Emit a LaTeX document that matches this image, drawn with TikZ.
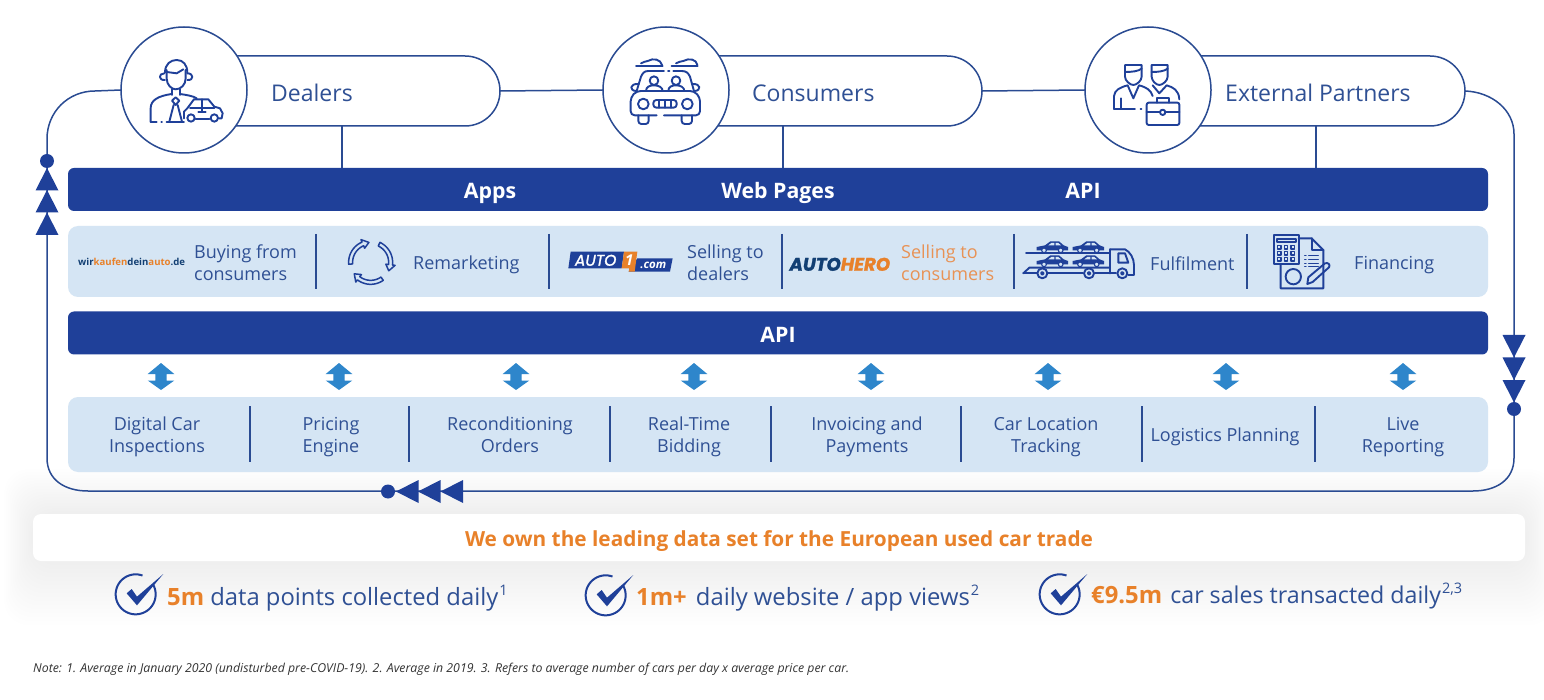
\documentclass[tikz,border=0pt]{standalone}
\usepackage{fontspec}
\setmainfont{Open Sans}
\newfontfamily\logofont[FakeBold=1.6]{Poppins}
\definecolor{navy}{HTML}{2A4B92}
\definecolor{bar}{HTML}{1F4099}
\definecolor{band}{HTML}{D5E5F4}
\definecolor{arrowblue}{HTML}{2E86CB}
\definecolor{orangeA}{HTML}{E8812A}
\definecolor{orangeB}{HTML}{E89255}
\definecolor{txt}{HTML}{2F5094}
\definecolor{heronavy}{HTML}{123F73}
\tikzset{
  conn/.style={draw=navy,line width=1.5pt},
  icon/.style={draw=bar,line width=1.9pt,line join=round,line cap=round},
  pill/.style={draw=navy,line width=1.5pt,fill=white,rounded corners=35pt,minimum height=70pt,inner sep=0pt,outer sep=0pt},
  ring/.style={circle,draw=navy,line width=1.5pt,fill=white,minimum size=126pt,inner sep=0pt,outer sep=0pt},
  darkbar/.style={fill=bar,rounded corners=6pt,minimum width=1420pt,minimum height=43pt,inner sep=0pt,outer sep=0pt},
  lightband/.style={fill=band,rounded corners=10pt,minimum width=1420pt,inner sep=0pt,outer sep=0pt},
  pilltext/.style={text=txt,anchor=west,inner sep=0pt,font=\fontsize{23}{28}\selectfont},
  bartext/.style={text=white,inner sep=0pt,anchor=base,font=\fontsize{21.3}{24}\bfseries\selectfont},
  bandtext/.style={text=txt,inner sep=0pt,align=center,font=\fontsize{18}{22}\selectfont},
  bandleft/.style={bandtext,anchor=west,align=left},
  stat/.style={text=txt,anchor=base west,inner sep=0pt,font=\fontsize{23.8}{28}\selectfont},
  dotmark/.style={circle,fill=bar,minimum size=14pt,inner sep=0pt,outer sep=0pt},
  divline/.style={draw=navy,line width=1.5pt},
}
\newcommand{\triup}[2]{\fill[bar] (#1,#2) -- ++(11.5,22.5) -- ++(-23,0) -- cycle;}
\newcommand{\tridown}[2]{\fill[bar] (#1,#2) -- ++(11.5,-22.5) -- ++(-23,0) -- cycle;}
\newcommand{\trileft}[2]{\fill[bar] (#1,#2) -- ++(22.5,11.5) -- ++(0,-23) -- cycle;}
\newcommand{\supnum}[1]{\raisebox{9.5pt}{\fontsize{14.5}{15}\selectfont\hspace{1pt}#1}}
\newcommand{\minicar}[2]{\begin{scope}[shift={(#1,#2)}]
  \fill[bar] (-47,9) -- (-47,-1) -- (-22,-6) -- (-6,-18) -- (20,-18) -- (34,-6) -- (47,-1) -- (47,9) -- cycle;
  \fill[band] (-12,-6) -- (-3,-13) -- (6,-13) -- (6,-6) -- cycle (10,-6) -- (10,-13) -- (18,-13) -- (26,-6) -- cycle;
  \draw[bar,fill=band,line width=1.1pt] (-25,9) circle (7) (25,9) circle (7);
\end{scope}}
\newcommand{\chkicon}[2]{\begin{scope}[shift={(#1,#2)},x=0.3333pt,y=-0.3333pt]
  \draw[bar,line width=2pt] plot[domain=30:-290,samples=50] ({107+60*cos(\x)},{103-60*sin(\x)});
  \fill[bar] (80,100) -- (95,87) -- (111,110) -- (190,42) -- (111,136) -- cycle;
\end{scope}}
\begin{document}
\begin{tikzpicture}[x=1pt,y=-1pt]
\useasboundingbox (0,0) rectangle (1544,700);
\fill[white] (0,0) rectangle (1544,700);
% soft halo behind the strip
\foreach \r in {4,8,...,64}{
  \fill[black,opacity=.004,rounded corners=24pt] ({33-0.45*\r},{514-0.7*\r}) rectangle ({1525+0.45*\r},{561+\r});
}
% loop coordinates
\coordinate (la) at (95,91);
\coordinate (lb) at (47,139);
\coordinate (lc) at (47,458);
\coordinate (ld) at (88,491);
\coordinate (le) at (1473,491);
\coordinate (lf) at (1514,458);
\coordinate (lg) at (1514,134);
% pills and circles
\node[pill,minimum width=350pt] (pillD) at (325,91) {};
\node[pill,minimum width=350pt] (pillC) at (807,91) {};
\node[pill,minimum width=350pt] (pillE) at (1290,91) {};
\node[ring] (ringD) at (184,90) {};
\node[ring] (ringC) at (666,90) {};
\node[ring] (ringE) at (1148,90) {};
\node[pilltext] (tD) at (271,93) {Dealers};
\node[pilltext] (tC) at (752,93) {Consumers};
\node[pilltext] (tE) at (1225,93) {External Partners};
% bars
\node[darkbar] (barTop) at (778,189.5) {};
\node[lightband,minimum height=71pt] (bandA) at (778,261.5) {};
\node[darkbar] (barApi) at (778,333) {};
\node[lightband,minimum height=75pt] (bandB) at (778,434.5) {};
\node[bartext] (lApps) at (490,199) {Apps};
\node[bartext] (lWeb) at (778,199) {Web Pages};
\node[bartext] (lApi) at (1083,199) {API};
\node[bartext] (lApi2) at (778,342) {API};
% connectors
\draw[conn] (pillD.east) -- (ringC.west);
\draw[conn] (pillC.east) -- (ringE.west);
\draw[conn] (342,0 |- pillD.south) -- (342,0 |- barTop.north);
\draw[conn] (783,0 |- pillC.south) -- (783,0 |- barTop.north);
\draw[conn] (1316,0 |- pillE.south) -- (1316,0 |- barTop.north);
\draw[conn] (ringD.west) -- (la) .. controls (68,91) and (47,112) .. (lb) -- (lc)
  .. controls (47,480) and (65,491) .. (ld) -- (le)
  .. controls (1496,491) and (1514,480) .. (lf) -- (lg)
  .. controls (1514,110) and (1492,92) .. (pillE.east);
% markers
\node[dotmark] (dotL) at (47,161) {};
\node[dotmark] (dotR) at (1514,409) {};
\node[dotmark] (dotB) at (388,491.5) {};
\triup{47}{168}\triup{47}{190}\triup{47}{212.5}
\tridown{1514}{357.5}\tridown{1514}{380}\tridown{1514}{402.5}
\trileft{396}{491.5}\trileft{418}{491.5}\trileft{440.5}{491.5}
% dividers
\foreach \d in {316,549,782,1014,1247}{\draw[divline] (\d,234) -- (\d,289);}
\foreach \d in {250,409,610,771,961,1142,1315}{\draw[divline] (\d,406) -- (\d,462);}
% double arrows
\foreach \d in {161,339,516,694,871,1048,1226,1403}{
 \fill[arrowblue] (\d,363) -- ++(13.3,11) -- ++(-7.6,0) -- ++(0,6.5) -- ++(7.6,0) -- (\d,390) -- ++(-13.3,-9.5) -- ++(7.6,0) -- ++(0,-6.5) -- ++(-7.6,0) -- cycle;}
% band A labels
\node[bandleft] (b1) at (194,263) {Buying from\\consumers};
\node[bandleft] (b2) at (413,265) {Remarketing};
\node[bandleft] (b3) at (687,263) {Selling to\\dealers};
\node[bandleft,text=orangeB] (b4) at (901,263) {Selling to\\consumers};
\node[bandleft] (b5) at (1150,264) {Fulfilment};
\node[bandleft] (b6) at (1354,265) {Financing};
% band B labels
\node[bandtext] (c1) at (157,437) {Digital Car\\Inspections};
\node[bandtext] (c2) at (331,437) {Pricing\\Engine};
\node[bandtext] (c3) at (510,435) {Reconditioning\\Orders};
\node[bandtext] (c4) at (689,437) {Real-Time\\Bidding};
\node[bandtext] (c5) at (867,437) {Invoicing and\\Payments};
\node[bandtext] (c6) at (1046,437) {Car Location\\Tracking};
\node[bandtext] (c7) at (1225,437) {Logistics Planning};
\node[bandtext] (c8) at (1403,437) {Live\\Reporting};
% wirkaufendeinauto logo
\node[anchor=west,inner sep=0pt,font=\fontsize{9.6}{11}\bfseries\selectfont,text=heronavy] (logoW) at (78,262)
 {wir\textcolor{orangeA}{kaufen}dein\textcolor{orangeA}{auto}.de};
% remarketing icon
\begin{scope}[shift={(60,220)},x=0.3333pt,y=-0.3333pt]
\foreach \a in {185,65,-55}{
 \draw[icon,line width=1.5pt] plot[domain=\a:\a-72,samples=14] ({932+66*cos(\x)},{127-66*sin(\x)})
   -- ({932+74*cos(\a-72)},{127-74*sin(\a-72)})
   -- ({932+60*cos(\a-90)},{127-60*sin(\a-90)})
   -- ({932+46*cos(\a-72)},{127-46*sin(\a-72)})
   -- ({932+54*cos(\a-72)},{127-54*sin(\a-72)})
   -- plot[domain=\a-72:\a,samples=14] ({932+54*cos(\x)},{127-54*sin(\x)}) -- cycle;
}
\end{scope}
% auto1 logo
\begin{scope}[shift={(550,220)},x=0.3333pt,y=-0.3333pt]
\fill[bar] (62,95) -- (222,95) -- (215,145) -- (55,145) -- cycle;
\fill[bar] (262,115) -- (368,115) -- (360,155) -- (236,155) -- cycle;
\fill[orangeA] (222,95) -- (262,95) -- (254,155) -- (236,155) -- (238,145) -- (215,145) -- cycle;
\node[text=white,inner sep=0pt,font=\logofont\fontsize{15.5}{16}\itshape\selectfont] (logoA) at (137,121) {AUTO};
\node[text=white,inner sep=0pt,font=\fontsize{15}{16}\bfseries\itshape\selectfont] (logoOne) at (238,120) {1};
\node[text=white,inner sep=0pt,font=\fontsize{11.5}{13}\bfseries\itshape\selectfont] (logoCom) at (310,135) {.com};
% autohero logo
\node[anchor=west,inner sep=0pt,font=\logofont\fontsize{18.2}{20}\bfseries\itshape\selectfont,text=heronavy] (logoH) at (718,133) {AUTO\textcolor{orangeA}{HERO}};
\end{scope}
% truck icon and financing icon
\begin{scope}[shift={(1010,220)},x=0.3333pt,y=-0.3333pt]
\minicar{127}{82}\minicar{235}{82}\minicar{127}{124}\minicar{235}{124}
\draw[icon] (48,100) -- (300,100);
\draw[icon] (40,160) -- (58,143) -- (300,143);
\draw[icon] (40,160) -- (80,160) (115,160) -- (218,160) (255,160) -- (318,160);
\draw[icon] (300,88) -- (345,88) .. controls (360,95) and (372,115) .. (372,135) -- (372,165) -- (355,165);
\draw[icon] (300,88) -- (300,160);
\draw[icon] (325,100) -- (345,100) -- (355,128) -- (325,128) -- cycle;
\draw[icon] (97,160) circle (15) (97,160) circle (4) (237,160) circle (15) (237,160) circle (4) (337,160) circle (15) (337,160) circle (4);
% financing
\draw[icon] (793,45) rectangle (866,133);
\draw[icon] (802,56) rectangle (858,66);
\foreach \px in {808,828,848}{\foreach \py in {82,100,118}{\draw[icon,line width=1.1pt] (\px-5,\py-5) rectangle (\px+5,\py+5);}}
\draw[icon] (866,55) -- (905,55) -- (940,90) -- (940,205) -- (812,205) -- (812,133);
\draw[icon] (905,55) -- (905,90) -- (940,90);
\foreach \py in {106,118,130,140}{\draw[icon,line width=1.2pt] (884,\py) -- (888,\py) (896,\py) -- (925,\py);}
\draw[icon] (850,170) circle (23);
\draw[icon] (892,192) -- (895,172) -- (945,130) .. controls (955,126) and (962,135) .. (957,142) -- (908,186) -- cycle;
\end{scope}
% dealer icon
\begin{scope}[shift={(30,10)},x=0.3333pt,y=-0.3333pt]
\draw[icon] (410,180) -- (410,205) .. controls (410,225) and (425,238) .. (437,238) .. controls (452,238) and (467,225) .. (467,205) -- (467,180);
\draw[icon] (405,188) .. controls (405,162) and (422,150) .. (440,150) .. controls (460,150) and (472,165) .. (472,188);
\draw[icon] (410,186) -- (440,190) -- (460,178);
\draw[icon] (403,190) .. controls (385,190) and (385,212) .. (405,210);
\draw[icon] (472,190) .. controls (492,190) and (492,212) .. (472,210);
\draw[icon] (425,238) -- (425,255) (450,238) -- (450,255);
\draw[icon] (362,335) -- (362,295) .. controls (362,270) and (385,258) .. (425,252);
\draw[icon] (450,252) .. controls (470,255) and (490,258) .. (500,265);
\draw[icon] (437,262) -- (448,272) -- (437,285) -- (426,272) -- cycle;
\draw[icon] (431,285) -- (418,335) (443,285) -- (456,335);
\draw[icon] (362,335) -- (380,335) (394,335) -- (396,335) (410,335) -- (462,335);
\draw[icon] (462,325) -- (462,305) -- (472,295) -- (492,268) -- (535,268) -- (553,290) -- (570,295) -- (578,310) -- (575,325) -- (567,325);
\draw[icon] (497,327) -- (538,327);
\draw[icon] (483,324) circle (11) (553,324) circle (11);
\draw[icon] (480,293) -- (553,293) (515,268) -- (515,306) (505,306) -- (527,306);
\end{scope}
% consumer icon
\begin{scope}[shift={(540,10)},x=0.3333pt,y=-0.3333pt]
\draw[icon] (288,168) -- (368,168) (395,168) -- (473,168);
\draw[icon] (303,160) .. controls (310,155) and (318,155) .. (323,153) .. controls (340,143) and (362,148) .. (366,165);
\draw[icon] (408,160) .. controls (415,155) and (423,155) .. (430,153) .. controls (447,143) and (470,148) .. (472,165);
\draw[icon] (345,183) -- (372,183) (384,183) -- (388,183) (400,183) -- (425,183) .. controls (440,183) and (445,190) .. (450,200) -- (462,243);
\draw[icon] (345,183) -- (325,183) .. controls (312,183) and (308,190) .. (303,200) -- (290,243);
\draw[icon] (342,212) circle (13) (408,212) circle (13);
\draw[icon] (318,243) .. controls (318,230) and (330,226) .. (342,226) .. controls (356,226) and (368,232) .. (368,243);
\draw[icon] (385,243) .. controls (385,230) and (396,226) .. (408,226) .. controls (422,226) and (433,232) .. (433,243);
\draw[icon] (296,222) .. controls (268,220) and (268,242) .. (288,243);
\draw[icon] (456,222) .. controls (484,220) and (484,242) .. (464,243);
\draw[icon,rounded corners=4pt] (350,316) -- (272,316) -- (272,262) -- (290,243) -- (462,243) -- (480,262) -- (480,316) -- (372,316);
\draw[icon] (310,282) circle (16) (442,282) circle (16);
\draw[icon,rounded corners=3pt] (340,270) rectangle (410,293);
\draw[icon] (358,270) -- (358,293) (375,270) -- (375,293) (392,270) -- (392,293);
\draw[icon,rounded corners=3pt] (295,316) -- (295,342) -- (326,342) -- (326,316);
\draw[icon,rounded corners=3pt] (425,316) -- (425,342) -- (456,342) -- (456,316);
\end{scope}
% partners icon
\begin{scope}[shift={(1040,10)},x=0.3333pt,y=-0.3333pt]
\draw[icon] (255,165) -- (305,165) -- (305,200) .. controls (305,212) and (290,225) .. (280,225) .. controls (270,225) and (255,212) .. (255,200) -- cycle;
\draw[icon] (255,186) .. controls (275,186) and (295,184) .. (305,176);
\draw[icon] (335,165) -- (383,165) -- (383,200) .. controls (383,212) and (368,225) .. (358,225) .. controls (348,225) and (335,212) .. (335,200) -- cycle;
\draw[icon] (335,186) .. controls (355,186) and (373,184) .. (383,176);
\draw[icon] (222,297) -- (222,258) .. controls (224,240) and (240,232) .. (263,226) -- (280,265) -- (297,226) .. controls (320,232) and (332,240) .. (338,258);
\draw[icon] (338,226) -- (358,250) -- (380,226) .. controls (400,232) and (416,240) .. (418,268);
\draw[icon] (243,265) -- (243,297) (222,297) -- (285,297) (302,297) -- (304,297);
\draw[icon,rounded corners=2pt] (320,278) rectangle (418,345);
\draw[icon] (350,278) -- (350,263) -- (388,263) -- (388,278);
\draw[icon] (320,305) -- (358,305) (378,305) -- (418,305);
\draw[icon] (368,307) circle (8);
\end{scope}
% strip
\node[fill=white,rounded corners=8pt,minimum width=1492pt,minimum height=47pt,inner sep=0pt] (strip) at (779,537.5) {};
\node[text=orangeA,anchor=base,inner sep=0pt,font=\fontsize{20.8}{24}\bfseries\selectfont] (stripT) at (779,546) {We own the leading data set for the European used car trade};
% stats
\chkicon{100}{560}\chkicon{570}{561}\chkicon{1024}{560}
\node[stat] (s1) at (167,605) {\textcolor{orangeA}{\bfseries 5m} data points collected daily\supnum{1}};
\node[stat] (s2) at (636,605) {\textcolor{orangeA}{\bfseries 1m+}\hspace{3pt} daily website / app views\supnum{2}};
\node[stat] (s3) at (1091,603) {\textcolor{orangeA}{\bfseries €9.5m}\hspace{2pt} \fontsize{23.2}{28}\selectfont car sales transacted daily\supnum{2,3}};
% note
\node[anchor=west,inner sep=0pt,text=black!80,font=\fontsize{12.3}{14}\itshape\selectfont] (note) at (33,669) {Note: 1. Average in January 2020 (undisturbed pre-COVID-19). 2. Average in 2019. 3. Refers to average number of cars per day x average price per car.};
\end{tikzpicture}
\end{document}
